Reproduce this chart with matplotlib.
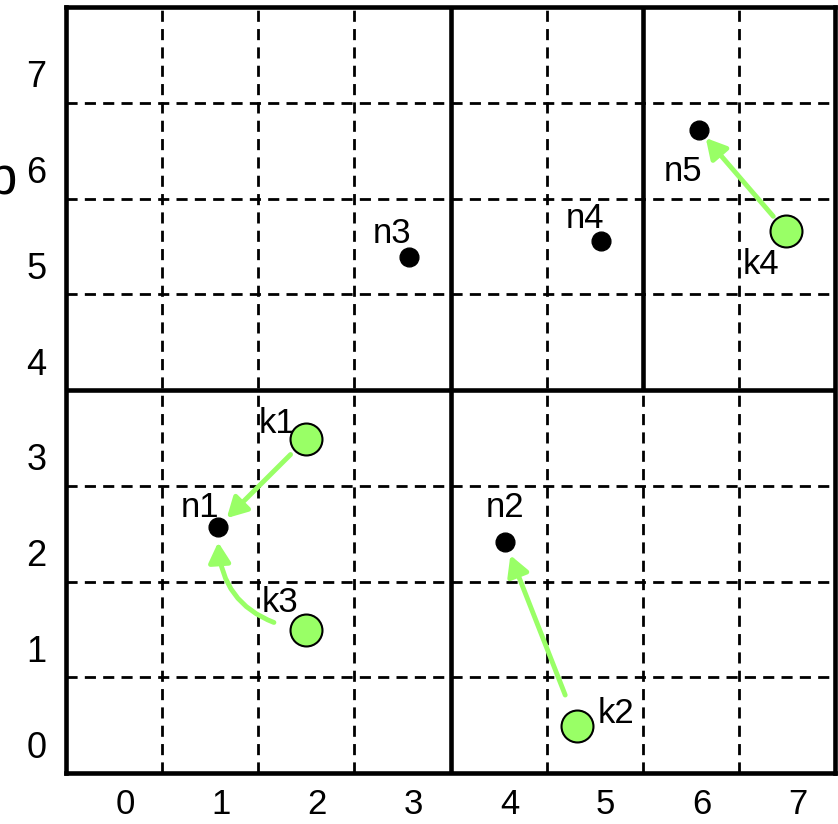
import numpy as np
import matplotlib
matplotlib.use("Agg")
import matplotlib.pyplot as plt
from matplotlib.transforms import ScaledTranslation

plt.rcParams['font.family'] = ['Liberation Sans', 'DejaVu Sans']

# nodes (black dots) and keys (green circles)
node_names = ["n1", "n2", "n3", "n4", "n5"]
node_x = [1.08, 4.07, 3.07, 5.07, 6.08]
node_y = [2.07, 1.91, 4.89, 5.06, 6.22]

key_names = ["k1", "k2", "k3", "k4"]
key_x = [2.0, 4.82, 2.0, 6.99]
key_y = [2.99, -0.01, 0.99, 5.16]

# which node each key points to
key_target = [0, 1, 0, 4]

tick_labels = ["0", "1", "2", "3", "4", "5", "6", "7"]

# label offsets in points (styling)
node_off = [(-13, 14), (0, 25), (-12, 17), (-12, 16), (-11, -30)]
key_off = [(-21, 11), (28, 9), (-19, 20), (-18, -24)]
arrow_rad = [0.0, 0.0, -0.45, 0.0]
arrow_shrinkA = [16, 24, 24, 14]
arrow_shrinkB = [9, 10, 11, 8]

green = '#99ff66'

fig = plt.figure(figsize=(8.38, 8.24), dpi=100)
ax = fig.add_axes([66 / 838, 51 / 824, 769 / 838, 766 / 824])
ax.set_xlim(-0.5, 7.5)
ax.set_ylim(-0.5, 7.5)

ticks = np.arange(len(tick_labels))
ax.set_xticks(ticks)
ax.set_xticklabels(tick_labels)
ax.set_yticks(ticks)
ax.set_yticklabels(tick_labels)
ax.set_xticks(ticks[:-1] + 0.5, minor=True)
ax.set_yticks(ticks[:-1] + 0.5, minor=True)
ax.tick_params(which='both', length=0, labelsize=26)
ax.tick_params(axis='x', pad=11, labelsize=25)
ax.tick_params(axis='y', pad=14)
ax.grid(which='minor', color='k', lw=2, ls=(0, (4, 2.6)))
ax.grid(which='major', visible=False)

for lab in ax.get_xticklabels():
    lab.set_transform(lab.get_transform() + ScaledTranslation(11 / 100, 0, fig.dpi_scale_trans))
for lab in ax.get_yticklabels():
    lab.set_transform(lab.get_transform() + ScaledTranslation(0, -19 / 100, fig.dpi_scale_trans))

for s in ax.spines.values():
    s.set_linewidth(3.3)

# region borders
ax.axvline(3.5, color='k', lw=3.3, zorder=2)
ax.axhline(3.5, color='k', lw=3.3, zorder=2)
ax.plot([5.5, 5.5], [3.5, 7.5], color='k', lw=3.3, zorder=2, solid_capstyle='butt')

for i, t in enumerate(key_target):
    ax.annotate("", xy=(node_x[t], node_y[t]), xytext=(key_x[i], key_y[i]),
                arrowprops=dict(arrowstyle='-|>,head_length=0.4,head_width=0.22',
                                mutation_scale=30, color=green, lw=3.5,
                                shrinkA=arrow_shrinkA[i], shrinkB=arrow_shrinkB[i],
                                connectionstyle=f'arc3,rad={arrow_rad[i]}'),
                zorder=3)

for i, name in enumerate(node_names):
    ax.annotate(name, (node_x[i], node_y[i]), xytext=node_off[i], textcoords='offset points',
                ha='center', va='center', fontsize=25, zorder=3)
for i, name in enumerate(key_names):
    ax.annotate(name, (key_x[i], key_y[i]), xytext=key_off[i], textcoords='offset points',
                ha='center', va='center', fontsize=25, zorder=3)

ax.plot(node_x, node_y, 'o', color='k', ms=13.5, zorder=4)
ax.plot(key_x, key_y, 'o', color=green, mec='k', mew=1.5, ms=23, zorder=4)

# axis name, mostly cut off at the left edge as in the original
fig.text(17 / 838, 1 - 193 / 824, "b", ha='right', va='baseline', fontsize=38)

fig.savefig("out.png", dpi=100)
